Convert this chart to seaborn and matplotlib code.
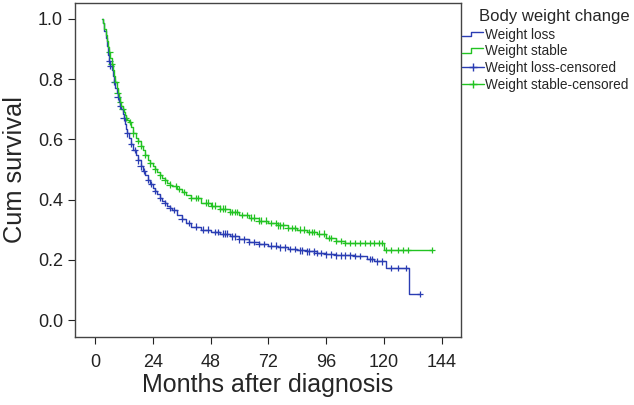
import numpy as np
import pandas as pd
import seaborn as sns
import matplotlib.pyplot as plt
from matplotlib.lines import Line2D
from matplotlib.legend_handler import HandlerLine2D

# step points (months, survival)
loss_t = [3, 3.5, 4, 4.5, 5, 5.5, 6, 6.5, 7, 7.5, 8, 8.5, 9, 9.5, 10, 10.5, 11,
          11.5, 12, 12.5, 13, 13.5, 14, 15, 16, 17, 18, 19, 20, 21, 22, 23, 24, 25,
          26, 27, 28, 29, 30, 31, 32, 34, 36, 38, 40, 44, 48, 52, 56, 60, 64, 68,
          72, 76, 80, 84, 88, 92, 96, 100, 108, 113, 116, 121, 130.5, 135]
loss_s = [1.0, 0.985, 0.96, 0.935, 0.91, 0.88, 0.86, 0.845, 0.83, 0.81, 0.79, 0.77,
          0.755, 0.74, 0.725, 0.71, 0.70, 0.685, 0.67, 0.65, 0.635, 0.62, 0.605,
          0.585, 0.565, 0.548, 0.53, 0.51, 0.495, 0.48, 0.465, 0.452, 0.44, 0.428,
          0.418, 0.405, 0.395, 0.388, 0.38, 0.372, 0.365, 0.35, 0.335, 0.322, 0.31,
          0.30, 0.292, 0.287, 0.278, 0.268, 0.259, 0.252, 0.247, 0.241, 0.236,
          0.231, 0.228, 0.222, 0.218, 0.215, 0.213, 0.203, 0.195, 0.173, 0.086,
          0.086]
stable_t = [3, 3.5, 4, 4.5, 5, 5.5, 6, 6.5, 7, 7.5, 8, 8.5, 9, 9.5, 10, 10.5, 11,
            11.5, 12, 12.5, 13, 13.5, 14, 15, 16, 17, 18, 19, 20, 21, 22, 23, 24,
            25, 26, 27, 28, 29, 30, 31, 32, 34, 36, 38, 40, 44, 48, 52, 56, 60, 64,
            68, 72, 76, 80, 84, 88, 92, 96, 100, 104, 120, 140]
stable_s = [1.0, 0.985, 0.965, 0.945, 0.925, 0.905, 0.89, 0.87, 0.85, 0.83, 0.81,
            0.79, 0.77, 0.755, 0.74, 0.725, 0.71, 0.70, 0.69, 0.68, 0.67, 0.665,
            0.658, 0.64, 0.62, 0.605, 0.595, 0.578, 0.565, 0.548, 0.532, 0.52, 0.51,
            0.50, 0.49, 0.48, 0.472, 0.464, 0.456, 0.45, 0.445, 0.435, 0.425, 0.415,
            0.405, 0.39, 0.38, 0.37, 0.358, 0.348, 0.34, 0.33, 0.322, 0.314, 0.306,
            0.30, 0.292, 0.287, 0.272, 0.262, 0.256, 0.233, 0.233]

# censoring times
loss_cens = [6, 6.5, 8, 9.5, 10.5, 12, 13.5, 15, 16.5, 18, 19, 20.5, 22, 23.5, 25,
             27, 29, 31, 33, 36, 39, 42, 45, 47, 50, 51, 53, 54, 55, 57, 58, 60, 62,
             64, 66, 68, 70, 73, 75, 77, 79, 81, 83, 85, 86, 88, 89, 91, 92, 94, 96,
             98, 100, 102, 104, 106, 108, 110, 114, 115, 117, 119, 123, 126, 129, 135]
stable_cens = [6, 7, 8.5, 9.5, 10.5, 11.5, 13, 14.5, 16, 18, 19, 21, 23, 25, 27,
               29, 31, 33.5, 35, 37, 40, 42, 43, 46, 47, 48.5, 50, 52, 53, 54, 56,
               57, 58, 59, 61, 63, 65, 66, 68, 69, 71, 73, 75, 76, 77, 78, 80, 82,
               83, 85, 87, 89, 90, 91, 93, 95, 97, 98, 100, 102, 104, 106, 108, 110,
               112, 114, 116, 118, 119, 121, 123, 126, 128, 130, 140]

blue = "#2a3db3"
green = "#22c322"


def surv_at(ts, ss, t):
    idx = np.searchsorted(ts, t, side="right") - 1
    return np.array(ss)[idx]


class StepHandler(HandlerLine2D):
    def create_artists(self, legend, orig_handle, xdescent, ydescent,
                       width, height, fontsize, trans):
        w = width * 0.95
        xs = [0, w * 0.4, w * 0.4, w]
        ys = [height * 0.3, height * 0.3, height * 0.75, height * 0.75]
        ln = Line2D(xs, ys, color=orig_handle.get_color(), lw=1)
        ln.set_transform(trans)
        return [ln]


curves = pd.concat([
    pd.DataFrame({"t": loss_t, "s": loss_s, "grp": "Weight loss"}),
    pd.DataFrame({"t": stable_t, "s": stable_s, "grp": "Weight stable"}),
])
cens = pd.concat([
    pd.DataFrame({"t": loss_cens, "s": surv_at(loss_t, loss_s, loss_cens),
                  "grp": "Weight loss"}),
    pd.DataFrame({"t": stable_cens, "s": surv_at(stable_t, stable_s, stable_cens),
                  "grp": "Weight stable"}),
])

sns.set_style("ticks")
plt.rcParams["font.family"] = ["Liberation Sans", "DejaVu Sans"]

fig = plt.figure(figsize=(6.34, 4.05), dpi=100)
ax = fig.add_axes([0.118, 0.168, 0.609, 0.825])

pal = {"Weight loss": blue, "Weight stable": green}
sns.lineplot(data=curves, x="t", y="s", hue="grp", palette=pal, estimator=None,
             drawstyle="steps-post", lw=1, legend=False, ax=ax)
sns.scatterplot(data=cens, x="t", y="s", hue="grp", palette=pal, marker="+",
                s=22, linewidth=0.9, legend=False, ax=ax)

ax.set_xlim(-8.3, 151.9)
ax.set_ylim(-0.056, 1.053)
ax.set_xticks(range(0, 145, 24))
ax.set_yticks([0, 0.2, 0.4, 0.6, 0.8, 1.0])
ax.set_yticklabels(["0.0", "0.2", "0.4", "0.6", "0.8", "1.0"])
ax.tick_params(labelsize=13, colors="#222222", length=5)
ax.tick_params(axis="x", pad=7)
ax.set_xlabel("Months after diagnosis", fontsize=18, labelpad=2)
ax.set_ylabel("Cum survival", fontsize=18.3, labelpad=8)
for sp in ax.spines.values():
    sp.set_color("#444444")
    sp.set_linewidth(1)

handles = [Line2D([], [], color=blue), Line2D([], [], color=green),
           Line2D([], [], color=blue, marker="+", lw=1),
           Line2D([], [], color=green, marker="+", lw=1)]
labels = ["Weight loss", "Weight stable", "Weight loss-censored",
          "Weight stable-censored"]
fig.text(554 / 634, 1 - 16 / 405, "Body weight change", fontsize=12,
         ha="center", va="center")
leg = fig.legend(handles, labels, loc="upper left",
                 bbox_to_anchor=(0.727, 0.935),
                 frameon=False, fontsize=9.85,
                 handlelength=1.6, handletextpad=0.05, labelspacing=0.2,
                 borderaxespad=0, borderpad=0.1,
                 handler_map={handles[0]: StepHandler(),
                              handles[1]: StepHandler()})

fig.savefig("out.png", dpi=100)
